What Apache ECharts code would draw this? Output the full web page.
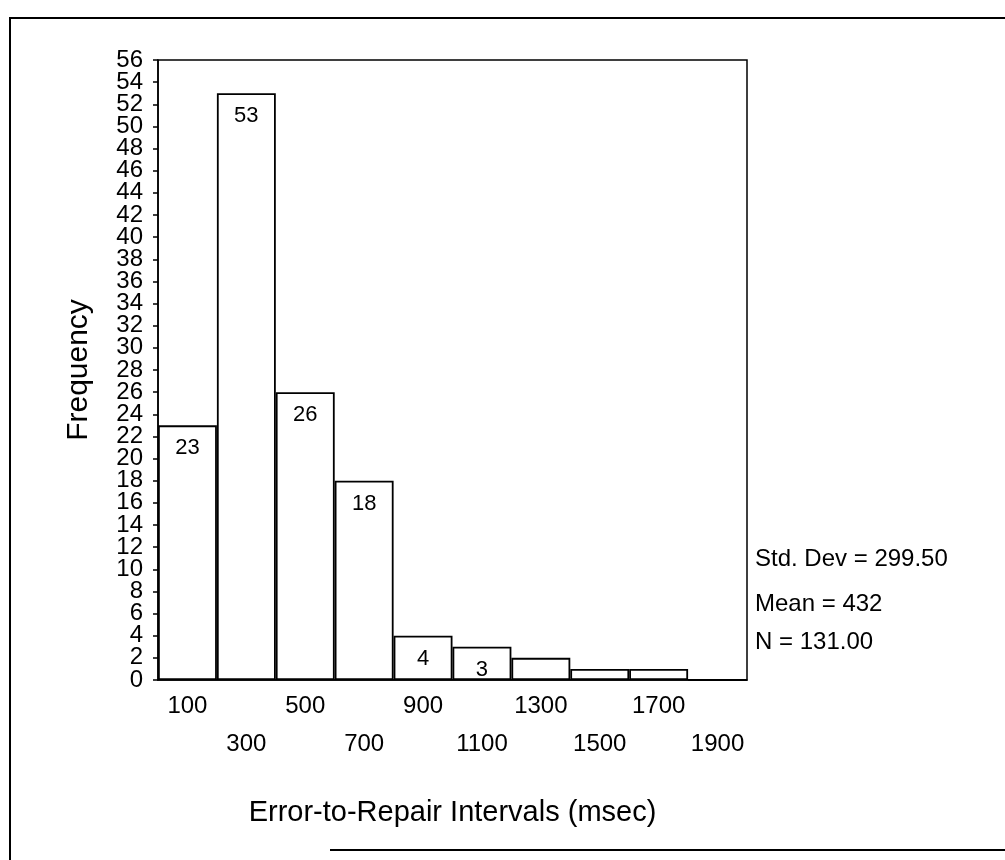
<!DOCTYPE html>
<html>
<head>
<meta charset="utf-8">
<title>Error-to-Repair Intervals</title>
<script src="https://cdn.jsdelivr.net/npm/echarts@6/dist/echarts.min.js"></script>
<style>
  html, body { margin: 0; padding: 0; background: #fff; }
  #chart { width: 1005px; height: 860px; }
</style>
</head>
<body>
<div id="chart"></div>
<script>
// bin centres (msec) and counts
const binLabels = ['100', '300', '500', '700', '900', '1100', '1300', '1500', '1700', '1900']
const counts = [23, 53, 26, 18, 4, 3, 2, 1, 1, 0]
const statsLines = ['Std. Dev = 299.50', 'Mean = 432', 'N = 131.00']
const yMax = 56

const FONT = "'Liberation Sans', Arial, sans-serif"
const tickText = { fontFamily: FONT, fontSize: 24, color: '#000', lineHeight: 24 }
const yLabelStyle = { margin: 15, fontFamily: FONT, fontSize: 24, color: '#000' }

const chart = echarts.init(document.getElementById('chart'))

chart.setOption({
  animation: false,
  backgroundColor: '#fff',
  grid: {
    left: 158,
    top: 60,
    width: 589,
    height: 620,
    show: true,
    borderColor: '#000',
    borderWidth: 1.5,
    backgroundColor: 'transparent',
  },
  xAxis: {
    type: 'category',
    data: binLabels,
    name: 'Error-to-Repair Intervals (msec)',
    nameLocation: 'middle',
    nameGap: 118,
    nameTextStyle: { fontFamily: FONT, fontSize: 29, color: '#000' },
    axisLine: { lineStyle: { color: '#000', width: 1.5 } },
    axisTick: { alignWithLabel: true, length: 6, lineStyle: { color: '#000', width: 1.5 } },
    axisLabel: {
      interval: 0,
      margin: 14,
      ...tickText,
      // every second label sits on a lower row
      formatter: (v, i) => (i % 2 === 1 ? '{lo|' + v + '}' : '{hi|' + v + '}'),
      rich: {
        hi: { ...tickText },
        lo: { ...tickText, padding: [76, 0, 0, 0] },
      },
    },
  },
  // labels are as crowded as in the original, so they are split over two
  // stacked axes (2, 6, 10 … and 0, 4, 8 …) to stop ECharts dropping any
  yAxis: [
    {
      type: 'value',
      min: 0,
      max: yMax,
      interval: 2,
      name: 'Frequency',
      nameLocation: 'middle',
      nameGap: 64,
      nameTextStyle: { fontFamily: FONT, fontSize: 30, color: '#000' },
      axisLine: { show: true, lineStyle: { color: '#000', width: 1.5 } },
      axisTick: { show: true, length: 5, lineStyle: { color: '#000', width: 1.5 } },
      axisLabel: { ...yLabelStyle, formatter: (v) => (v % 4 === 2 ? String(v) : '') },
      splitLine: { show: false },
    },
    {
      type: 'value',
      position: 'left',
      min: 0,
      max: yMax,
      interval: 4,
      axisLine: { show: false },
      axisTick: { show: false },
      axisLabel: { ...yLabelStyle },
      splitLine: { show: false },
    },
  ],
  series: [
    {
      type: 'bar',
      data: counts,
      barCategoryGap: 0,
      itemStyle: { color: '#fff', borderColor: '#000', borderWidth: 1.8 },
      label: {
        show: true,
        position: 'insideTop',
        distance: 12,
        fontFamily: FONT,
        fontSize: 22,
        color: '#000',
        formatter: (p) => (p.value >= 3 ? p.value : ''),
      },
    },
  ],
  graphic: [
    // page frame
    {
      type: 'polyline',
      shape: { points: [[10, 860], [10, 18], [1005, 18]] },
      style: { fill: 'none', stroke: '#000', lineWidth: 2 },
      silent: true,
    },
    {
      type: 'line',
      shape: { x1: 330, y1: 850, x2: 1005, y2: 850 },
      style: { stroke: '#000', lineWidth: 2 },
      silent: true,
    },
    ...statsLines.map((t, i) => ({
      type: 'text',
      left: 755,
      top: [547, 592, 630][i],
      style: { text: t, fontFamily: FONT, fontSize: 24, fill: '#000' },
    })),
  ],
})
</script>
</body>
</html>
